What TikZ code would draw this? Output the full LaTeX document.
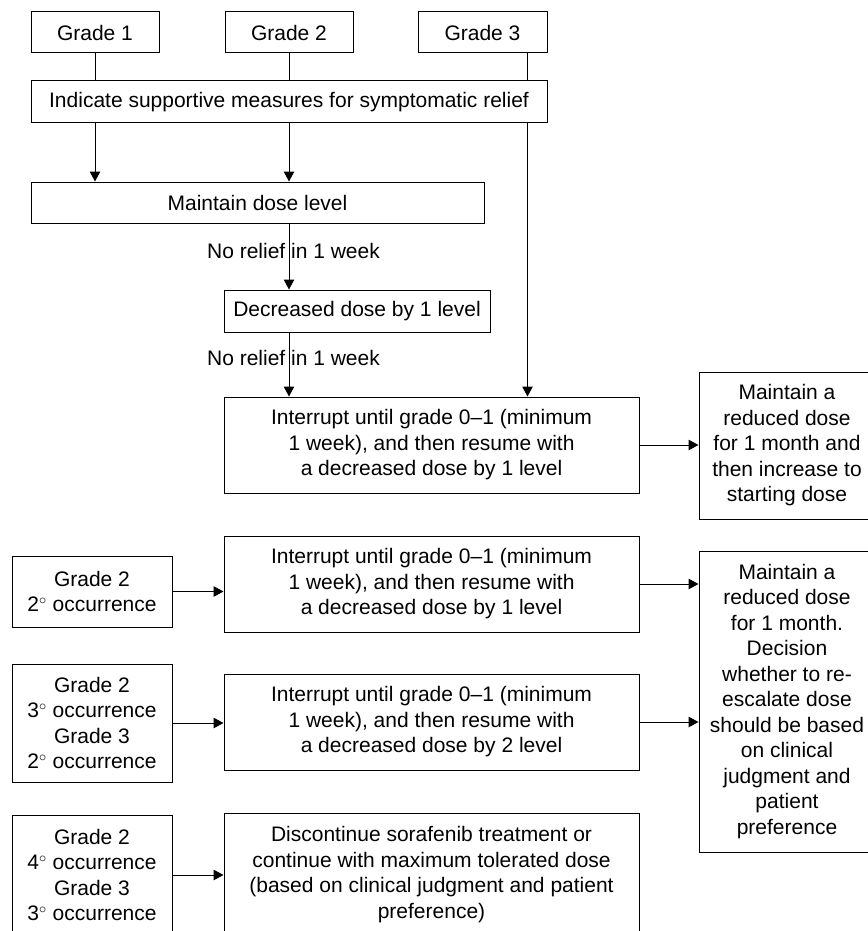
\documentclass[tikz,border=0pt]{standalone}
\usepackage{fontspec}
\setmainfont{Liberation Sans}
\usetikzlibrary{arrows.meta}
\begin{document}
\begin{tikzpicture}[x=1pt,y=-1pt,
  txt/.style={font=\fontsize{21}{25.5}\selectfont},
  box/.style={txt, draw, line width=1pt, align=center, inner sep=0pt},
  lbl/.style={txt, inner sep=0pt, anchor=base},
  ln/.style={line width=1pt},
  arr/.style={line width=1pt, -{Triangle[length=10pt,width=10.5pt]}}]
\useasboundingbox (0,0) rectangle (867,931);
% top row
\node[box, minimum width=128pt, minimum height=41pt] (g1) at (95,32.5) {Grade 1};
\node[box, minimum width=128pt, minimum height=41pt] (g2) at (289,32.5) {Grade 2};
\node[box, minimum width=129pt, minimum height=41pt] (g3) at (482.5,32.5) {Grade 3};
\node[box, minimum width=516pt, minimum height=42pt] (ind) at (289,102) {Indicate supportive measures for symptomatic relief};
\node[box, minimum width=453pt, minimum height=41pt] (mdl) at (257.5,202.5) {Maintain dose level};
\node[box, minimum width=266pt, minimum height=42pt] (dec) at (357,311) {Decreased dose by 1 level};
\node[box, minimum width=415pt, minimum height=96pt] (int1) at (431.5,445) {Interrupt until grade 0--1 (minimum\\1 week), and then resume with\\a decreased dose by 1 level};
\node[box, minimum width=176pt, minimum height=147pt] (r1) at (787,445.5) {Maintain a\\reduced dose\\for 1 month and\\then increase to\\starting dose};
% lower part
\node[box, minimum width=160pt, minimum height=71pt] (lf1) at (92,591.5) {Grade 2\\2$^\circ$ occurrence};
\node[box, minimum width=160pt, minimum height=118pt] (lf2) at (92,723) {Grade 2\\3$^\circ$ occurrence\\Grade 3\\2$^\circ$ occurrence};
\node[box, minimum width=160pt, minimum height=120pt] (lf3) at (92,875) {Grade 2\\4$^\circ$ occurrence\\Grade 3\\3$^\circ$ occurrence};
\node[box, minimum width=415pt, minimum height=96pt] (int2) at (431.5,584) {Interrupt until grade 0--1 (minimum\\1 week), and then resume with\\a decreased dose by 1 level};
\node[box, minimum width=415pt, minimum height=96pt] (int3) at (431.5,722) {Interrupt until grade 0--1 (minimum\\1 week), and then resume with\\a decreased dose by 2 level};
\node[box, minimum width=415pt, minimum height=123pt] (disc) at (431.5,874.5) {Discontinue sorafenib treatment or\\continue with maximum tolerated dose\\(based on clinical judgment and patient\\preference)};
\node[box, minimum width=176pt, minimum height=301pt] (r2) at (787,701.5) {Maintain a\\reduced dose\\for 1 month.\\Decision\\whether to re-\\escalate dose\\should be based\\on clinical\\judgment and\\patient\\preference};
% labels
\node[lbl] (nr1) at (293.5,258) {No relief in 1 week};
\node[lbl] (nr2) at (293.5,365) {No relief in 1 week};
% connectors
\coordinate (c3) at ([xshift=-20pt]g3.south east);
\draw[ln] (g1.south) -- (g1.south |- ind.north);
\draw[ln] (g2.south) -- (g2.south |- ind.north);
\draw[ln] (c3) -- (c3 |- ind.north);
\draw[arr] (g1.south |- ind.south) -- (g1.south |- mdl.north);
\draw[arr] (g2.south |- ind.south) -- (g2.south |- mdl.north);
\draw[arr] (c3 |- ind.south) -- (c3 |- int1.north);
\draw[arr] (g2.south |- mdl.south) -- (g2.south |- dec.north);
\draw[arr] (g2.south |- dec.south) -- (g2.south |- int1.north);
\draw[arr] (int1.east) -- (int1.east -| r1.west);
\draw[arr] (lf1.east) -- (lf1.east -| int2.west);
\draw[arr] (lf2.east) -- (lf2.east -| int3.west);
\draw[arr] (lf3.east) -- (lf3.east -| disc.west);
\draw[arr] (int2.east) -- (int2.east -| r2.west);
\draw[arr] (int3.east) -- (int3.east -| r2.west);
\end{tikzpicture}
\end{document}
